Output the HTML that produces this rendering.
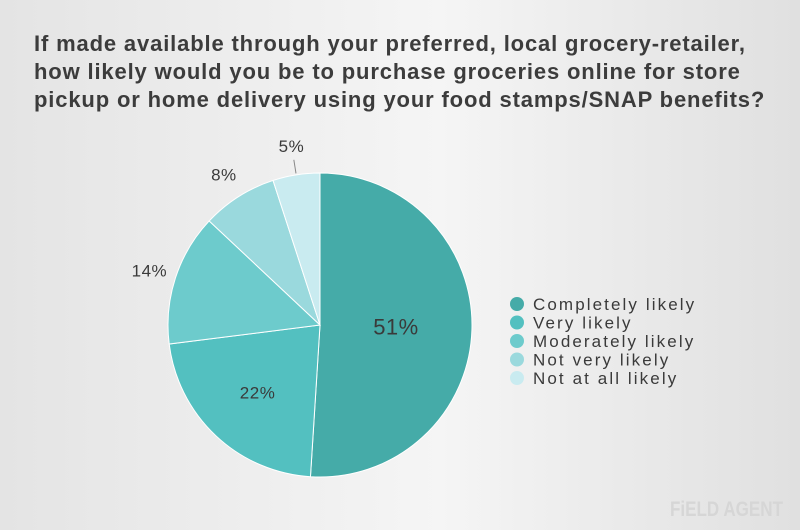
<!DOCTYPE html>
<html><head><meta charset="utf-8"><style>
body{margin:0;width:800px;height:530px;overflow:hidden;font-family:"Liberation Sans",sans-serif;}
#bg{position:absolute;left:0;top:0;width:800px;height:530px;background:linear-gradient(90deg,#e4e4e4 0%,#efefef 35%,#f5f5f5 55%,#e9e9e9 80%,#e0e0e0 100%);}
h1{position:absolute;left:34px;top:30px;margin:0;font-size:22px;line-height:28px;font-weight:bold;color:#3c3c3c;white-space:nowrap;letter-spacing:0.85px;}
</style></head><body>
<div id="bg"></div>
<h1>If made available through your preferred, local grocery-retailer,<br>how likely would you be to purchase groceries online for store<br>pickup or home delivery using your food stamps/SNAP benefits?</h1>
<svg id="c" width="800" height="530" style="position:absolute;left:0;top:0"></svg>
<script>
const categories=["Completely likely","Very likely","Moderately likely","Not very likely","Not at all likely"];
const values=[51,22,14,8,5];
const labels=["51%","22%","14%","8%","5%"];
const colors=["#45aba8","#53c0c0","#6dcbcc","#9ad9dd","#c9ebf0"];
const svg=document.getElementById('c');const NS='http://www.w3.org/2000/svg';
const cx=320,cy=325,r=152;
const total=values.reduce((a,b)=>a+b,0);
let a0=-Math.PI/2;
const labelR=[0.5,0.6,1.18,1.18,1.2];
values.forEach((v,i)=>{
 const a1=a0+v/total*2*Math.PI;
 const x0=cx+r*Math.cos(a0),y0=cy+r*Math.sin(a0),x1=cx+r*Math.cos(a1),y1=cy+r*Math.sin(a1);
 const p=document.createElementNS(NS,'path');
 p.setAttribute('d',`M${cx},${cy}L${x0},${y0}A${r},${r} 0 ${a1-a0>Math.PI?1:0} 1 ${x1},${y1}Z`);
 p.setAttribute('fill',colors[i]);p.setAttribute('stroke','#fff');p.setAttribute('stroke-width','1');
 
 
 svg.appendChild(p);
 const am=(a0+a1)/2,lr=r*labelR[i];
 const t=document.createElementNS(NS,'text');
 t.setAttribute('x',cx+lr*Math.cos(am));t.setAttribute('y',cy+lr*Math.sin(am)+7);
 t.setAttribute('text-anchor','middle');t.setAttribute('font-size',i==0?22:17);t.setAttribute('fill','#3a3a3a');
 t.setAttribute('letter-spacing','0.5');
 t.textContent=labels[i];
 
 
 svg.appendChild(t);
 if(i==4){const l=document.createElementNS(NS,'line');
  l.setAttribute('x1',cx+r*1.01*Math.cos(am));l.setAttribute('y1',cy+r*1.01*Math.sin(am));
  l.setAttribute('x2',cx+r*1.1*Math.cos(am));l.setAttribute('y2',cy+r*1.1*Math.sin(am));
  l.setAttribute('stroke','#888');
  
  
  svg.appendChild(l);}
 a0=a1;
});
categories.forEach((c,i)=>{
 const y=304+i*18.5;
 const d=document.createElementNS(NS,'circle');
 d.setAttribute('cx',517);d.setAttribute('cy',y);d.setAttribute('r',7);d.setAttribute('fill',colors[i]);
 
 
 svg.appendChild(d);
 const t=document.createElementNS(NS,'text');
 t.setAttribute('x',533);t.setAttribute('y',y+6);t.setAttribute('font-size',17);t.setAttribute('fill','#3a3a3a');
 t.setAttribute('letter-spacing','2.1');
 t.textContent=c;
 
 
 svg.appendChild(t);
});
const lg=document.createElementNS(NS,'text');
lg.setAttribute('x',670);lg.setAttribute('y',516);lg.setAttribute('font-size',21);lg.setAttribute('font-weight','bold');lg.setAttribute('fill','#d6d6d6');
lg.setAttribute('textLength','113');lg.setAttribute('lengthAdjust','spacingAndGlyphs');
lg.textContent='FiELD AGENT';


svg.appendChild(lg);
</script>
</body></html>
